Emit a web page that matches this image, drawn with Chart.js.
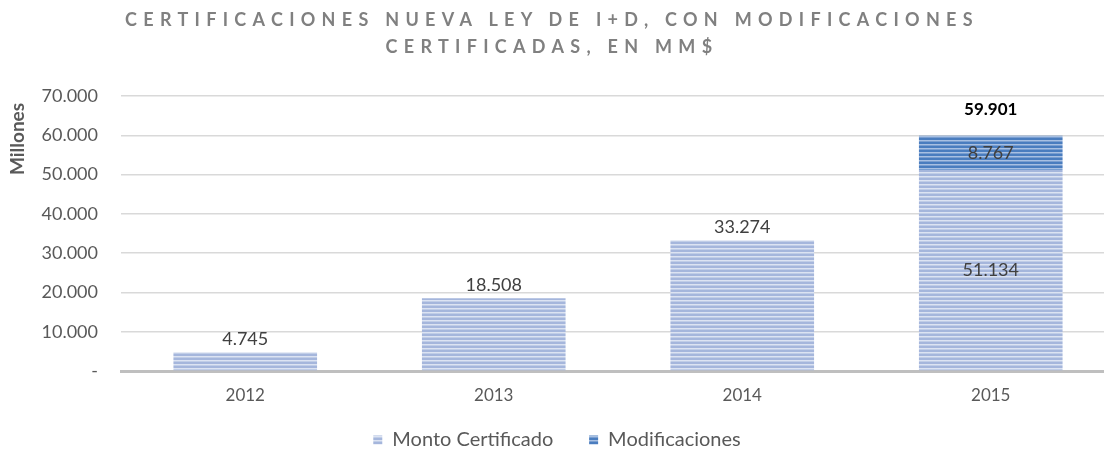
<!DOCTYPE html>
<html>
<head>
<meta charset="utf-8">
<script src="https://cdn.jsdelivr.net/npm/chart.js@4"></script>
<style>
  html, body { margin: 0; padding: 0; background: #fff; overflow: hidden; }
  #wrap { position: relative; width: 1104px; height: 451px; }
  #title {
    position: absolute; left: 0; top: 6px; width: 1104px;
    text-align: center; font-family: Lato, sans-serif; font-weight: bold;
    font-size: 18px; letter-spacing: 6.3px; color: #808080; line-height: 27px;
  }
</style>
</head>
<body>
<div id="wrap">
  <div id="title">CERTIFICACIONES NUEVA LEY DE I+D, CON MODIFICACIONES<br>CERTIFICADAS, EN MM$</div>
  <canvas id="chart" width="1104" height="451"></canvas>
</div>
<script>
// datos del grafico
const years = ['2012', '2013', '2014', '2015'];
const montoCertificado = [4745, 18508, 33274, 51134];
const modificaciones = [0, 0, 0, 8767];
const yTicks = [0, 10000, 20000, 30000, 40000, 50000, 60000, 70000];

function fmt(v) {
    return String(v).replace(/\B(?=(\d{3})+(?!\d))/g, '.');
}

function stripes(base, line) {
    const c = document.createElement('canvas');
    c.width = 4; c.height = 4;
    const g = c.getContext('2d');
    g.fillStyle = base;
    g.fillRect(0, 0, 4, 4);
    g.fillStyle = line;
    g.fillRect(0, 0, 4, 1.5);
    return g.createPattern(c, 'repeat');
}

const lightPattern = stripes('#a5b6dc', '#dce3f2');
const darkPattern = stripes('#4a7dbf', '#a8c0e2');

// el grafico original esta recortado a la derecha: el eje x sigue mas alla del canvas
const widenX = {
    id: 'widenX',
    afterLayout(chart) {
        const x = chart.scales.x;
        x.right += 11;
        x.width += 11;
        x.configure();
    }
};

const labelsPlugin = {
    id: 'valueLabels',
    afterDatasetsDraw(chart) {
        const ctx = chart.ctx;
        const m0 = chart.getDatasetMeta(0);
        const m1 = chart.getDatasetMeta(1);
        ctx.save();
        ctx.textAlign = 'center';
        ctx.textBaseline = 'middle';
        years.forEach((y, i) => {
            const b0 = m0.data[i];
            ctx.font = '18px Lato, sans-serif';
            ctx.fillStyle = '#404040';
            if (modificaciones[i] > 0) {
                const b1 = m1.data[i];
                ctx.fillText(fmt(montoCertificado[i]), b0.x, (b0.y + b0.base) / 2);
                ctx.fillText(fmt(modificaciones[i]), b1.x, (b1.y + b1.base) / 2);
                ctx.font = 'bold 17px Lato, sans-serif';
                ctx.fillStyle = '#000';
                ctx.fillText(fmt(montoCertificado[i] + modificaciones[i]), b1.x, b1.y - 26);
            } else {
                ctx.fillText(fmt(montoCertificado[i]), b0.x, b0.y - 13);
            }
        });
        // titulo del eje
        ctx.translate(18, 139);
        ctx.rotate(-Math.PI / 2);
        ctx.font = 'bold 19px Lato, sans-serif';
        ctx.fillStyle = '#595959';
        ctx.fillText('Millones', 0, 0);
        ctx.restore();
    }
};

new Chart(document.getElementById('chart').getContext('2d'), {
    type: 'bar',
    data: {
        labels: years,
        datasets: [{
            label: 'Monto Certificado',
            data: montoCertificado,
            backgroundColor: lightPattern,
            borderWidth: 0,
            barPercentage: 0.578,
            categoryPercentage: 1
        }, {
            label: 'Modificaciones',
            data: modificaciones,
            backgroundColor: darkPattern,
            borderWidth: 0,
            barPercentage: 0.578,
            categoryPercentage: 1
        }]
    },
    options: {
        responsive: false,
        animation: false,
        layout: { padding: { top: 96, right: 0, left: 10, bottom: -9 } },
        plugins: {
            legend: {
                position: 'bottom',
                labels: {
                    boxWidth: 9, boxHeight: 9, padding: 0,
                    color: '#595959',
                    font: { family: 'Lato, sans-serif', size: 20 },
                    generateLabels(chart) {
                        const items = Chart.defaults.plugins.legend.labels.generateLabels(chart);
                        items[0].text += '       ';
                        return items;
                    }
                }
            },
            title: { display: false },
            tooltip: { enabled: false }
        },
        scales: {
            x: {
                stacked: true,
                grid: { display: false },
                border: { color: '#bfbfbf', width: 3 },
                afterFit(scale) { scale.height = 59; },
                ticks: {
                    color: '#595959', padding: 6,
                    font: { family: 'Lato, sans-serif', size: 17 }
                }
            },
            y: {
                stacked: true,
                min: 0, max: 70000,
                afterBuildTicks(scale) {
                    scale.ticks = yTicks.map(v => ({ value: v }));
                },
                afterFit(scale) { scale.width = 111; },
                grid: { color: '#d9d9d9', lineWidth: 1.5, drawTicks: false },
                border: { display: false },
                ticks: {
                    color: '#595959', padding: 23,
                    font: { family: 'Lato, sans-serif', size: 18 },
                    callback: v => v === 0 ? '-' : fmt(v)
                }
            }
        }
    },
    plugins: [widenX, labelsPlugin]
});
</script>
</body>
</html>
